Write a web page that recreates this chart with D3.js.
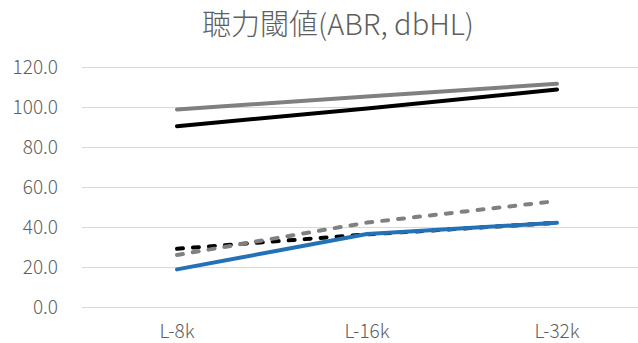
<!DOCTYPE html>
<html>
<head>
<meta charset="utf-8">
<script src="https://cdn.jsdelivr.net/npm/d3@7"></script>
<style>
  body { margin: 0; background: #fff; }
  text { font-family: "Noto Sans CJK JP", "Noto Sans", sans-serif; fill: #5f5f5f; font-weight: 300; }
</style>
</head>
<body>
<div id="chart"></div>
<script>
const categories = ['L-8k', 'L-16k', 'L-32k'];
const yTicks = [0, 20, 40, 60, 80, 100, 120];

const graySolid = [98.8, 105.2, 111.6];
const blackSolid = [90.4, 99.3, 108.7];
const blackDashed = [29.1, 36.3, 42.1];
const grayDashed = [26.0, 42.2, 53.0];
const blueSolid = [18.8, 36.5, 42.1];

const series = [
  { values: graySolid, color: '#808080', dash: null },
  { values: blackSolid, color: '#000000', dash: null },
  { values: blackDashed, color: '#000000', dash: '6,10' },
  { values: grayDashed, color: '#808080', dash: '6,10' },
  { values: blueSolid, color: '#2372b8', dash: null },
];

const width = 638;
const height = 343;
const margin = { top: 67, right: -14, bottom: 36, left: 82 };

const svg = d3.select('#chart')
  .append('svg')
  .attr('width', width)
  .attr('height', height);

const x = d3.scalePoint()
  .domain(categories)
  .range([margin.left, width - margin.right])
  .padding(0.5);

const y = d3.scaleLinear()
  .domain([0, 120])
  .range([height - margin.bottom, margin.top]);

// title
svg.append('text')
  .attr('x', 338)
  .attr('y', 35)
  .attr('text-anchor', 'middle')
  .style('font-size', '29px')
  .text('聴力閾値(ABR, dbHL)');

// gridlines
svg.append('g')
  .selectAll('line')
  .data(yTicks)
  .enter().append('line')
  .attr('x1', margin.left)
  .attr('x2', width - margin.right)
  .attr('y1', d => Math.round(y(d)) + 0.5)
  .attr('y2', d => Math.round(y(d)) + 0.5)
  .attr('stroke', '#d9d9d9')
  .attr('stroke-width', 1);

// y labels
svg.append('g')
  .selectAll('text')
  .data(yTicks)
  .enter().append('text')
  .attr('x', 58)
  .attr('y', d => y(d))
  .attr('dy', '0.35em')
  .attr('text-anchor', 'end')
  .style('font-size', '19px')
  .text(d => d.toFixed(1));

// x labels
svg.append('g')
  .selectAll('text')
  .data(categories)
  .enter().append('text')
  .attr('x', d => x(d))
  .attr('y', 338)
  .attr('text-anchor', 'middle')
  .style('font-size', '19px')
  .text(d => d);

const line = d3.line()
  .x((d, i) => x(categories[i]))
  .y(d => y(d));

svg.append('g')
  .selectAll('path')
  .data(series)
  .enter().append('path')
  .attr('d', d => line(d.values))
  .attr('fill', 'none')
  .attr('stroke', d => d.color)
  .attr('stroke-width', 4)
  .attr('stroke-linecap', 'round')
  .attr('stroke-linejoin', 'round')
  .attr('stroke-dasharray', d => d.dash);
</script>
</body>
</html>
